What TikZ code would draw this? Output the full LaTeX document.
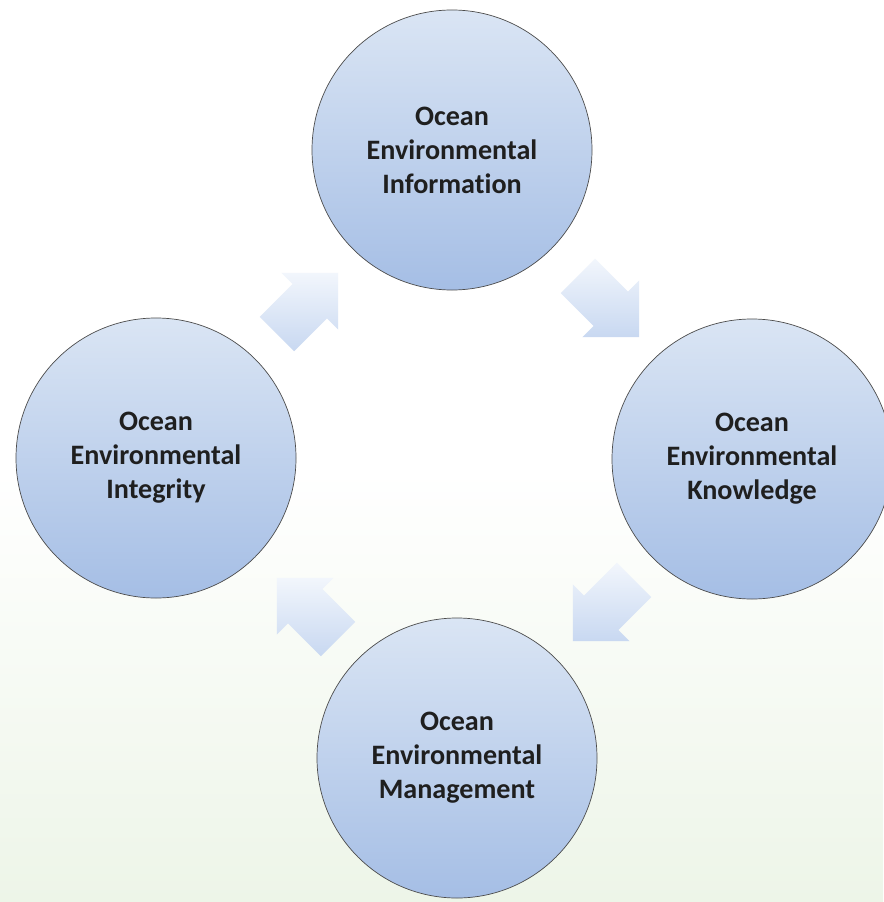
\documentclass[tikz,border=0pt]{standalone}
\usepackage{fontspec}
\setmainfont{Carlito}[Ligatures=NoCommon]
\usetikzlibrary{shapes.arrows}
\definecolor{ringtop}{HTML}{DAE5F4}
\definecolor{ringbot}{HTML}{A5BEE5}
\definecolor{arrowtop}{HTML}{F2F6FC}
\definecolor{arrowbot}{HTML}{C8D8F1}
\definecolor{paper}{HTML}{EDF5E8}

\begin{document}
\begin{tikzpicture}[x=0.03cm,y=-0.03cm]
\tikzstyle{stage}=[circle, draw=black!70, line width=0.6pt, minimum size=8.4cm, inner sep=0pt,
  top color=ringtop, bottom color=ringbot, align=center,
  font=\bfseries\fontsize{24}{29}\selectfont, text=black!88]
\tikzstyle{turn}=[single arrow, draw=none, minimum height=2.6cm, inner xsep=0pt, inner ysep=0.72cm,
  single arrow head extend=0.48cm, top color=arrowtop, bottom color=arrowbot]
\useasboundingbox (0,0) rectangle (883,902);
\fill[white] (0,0) rectangle (883,470);
\shade[top color=white, bottom color=paper] (0,470) rectangle (883,902);

\node[stage] (info) at (452,150) {Ocean\\Environmental\\Information};
\node[stage] (know) at (752,459) {Ocean\\Environmental\\Knowledge};
\node[stage] (manage) at (457,758) {Ocean\\Environmental\\Management};
\node[stage] (integ) at (156,458) {Ocean\\Environmental\\Integrity};

% arrows of the cycle
\foreach \name/\x/\y/\a in {up/299/312/45, right/600/298/-45, down/612/602/-135, left/316/617/135} {
  \node[turn, rotate=\a] (\name) at (\x,\y) {};}
\end{tikzpicture}
\end{document}
